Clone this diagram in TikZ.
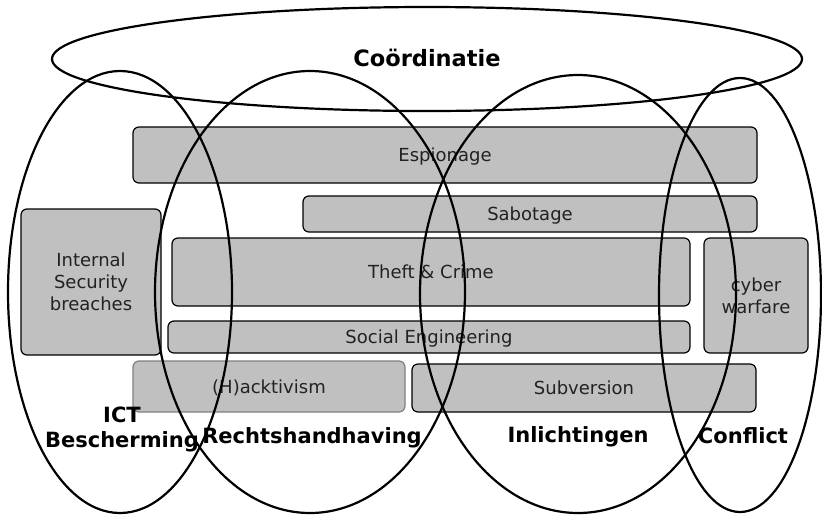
\documentclass[tikz,border=0pt]{standalone}
\usepackage{fontspec}
\setmainfont{DejaVu Sans}
\usepackage{tikz}
\usetikzlibrary{positioning,shapes.geometric,backgrounds}
\pgfdeclarelayer{background layer}
\pgfsetlayers{background layer,main}
\definecolor{boxgray}{HTML}{C0C0C0}
\definecolor{boxtext}{HTML}{222222}

\begin{document}
\begin{tikzpicture}[x=1pt,y=-1pt,
  area/.style={ellipse,draw,line width=2.2pt,inner sep=0pt,outer sep=0pt},
  threat/.style={rectangle,rounded corners=6pt,draw,line width=1.2pt,fill=boxgray,inner sep=0pt,
    text=boxtext,text depth=0pt,align=center,font=\fontsize{18}{22}\selectfont},
  label/.style={font=\fontsize{21}{25}\selectfont\bfseries,align=center}]
\useasboundingbox (0,0) rectangle (822,515);

\begin{pgfonlayer}{background layer}
\node (esp) [threat,minimum width=624pt,minimum height=56pt] at (445,155) {Espionage};
\node (sab) [threat,minimum width=454pt,minimum height=36pt] at (530,214) {Sabotage};
\node (theft) [threat,minimum width=518pt,minimum height=68pt] at (431,272) {Theft \& Crime};
\node (soc) [threat,minimum width=522pt,minimum height=32pt] at (429,337) {Social Engineering};
\node (intsec) [threat,minimum width=140pt,minimum height=146pt] at (91,282) {Internal\\Security\\breaches};
\node (cyber) [threat,minimum width=104pt,minimum height=115pt] at (756,295.5) {cyber\\warfare};
\node (hack) [threat,draw=gray,minimum width=272pt,minimum height=51pt] at (269,386.5) {(H)acktivism};
\node (subv) [threat,minimum width=344pt,minimum height=48pt] at (584,388) {Subversion};
\end{pgfonlayer}

\node (coord) [area,minimum width=750pt,minimum height=104pt] at (427,59) {};
\node (ict) [area,minimum width=224pt,minimum height=442pt] at (120,292) {};
\node (recht) [area,minimum width=310pt,minimum height=442pt] at (310,292) {};
\node (inl) [area,minimum width=316pt,minimum height=438pt] at (578,294) {};
\node (conf) [area,minimum width=162pt,minimum height=434pt] at (740,295) {};

\node (Coord) at ([yshift=1pt]coord) [label,font=\fontsize{22.5}{26}\selectfont\bfseries] {Coördinatie};
\node (ICT) at (122,429) [label] {ICT\\Bescherming};
\node (Recht) at (312,438) [label] {Rechtshandhaving};
\node (Inl) at (578,437) [label] {Inlichtingen};
\node (Conf) at (743,436) [label] {Conflict};
\end{tikzpicture}
\end{document}
